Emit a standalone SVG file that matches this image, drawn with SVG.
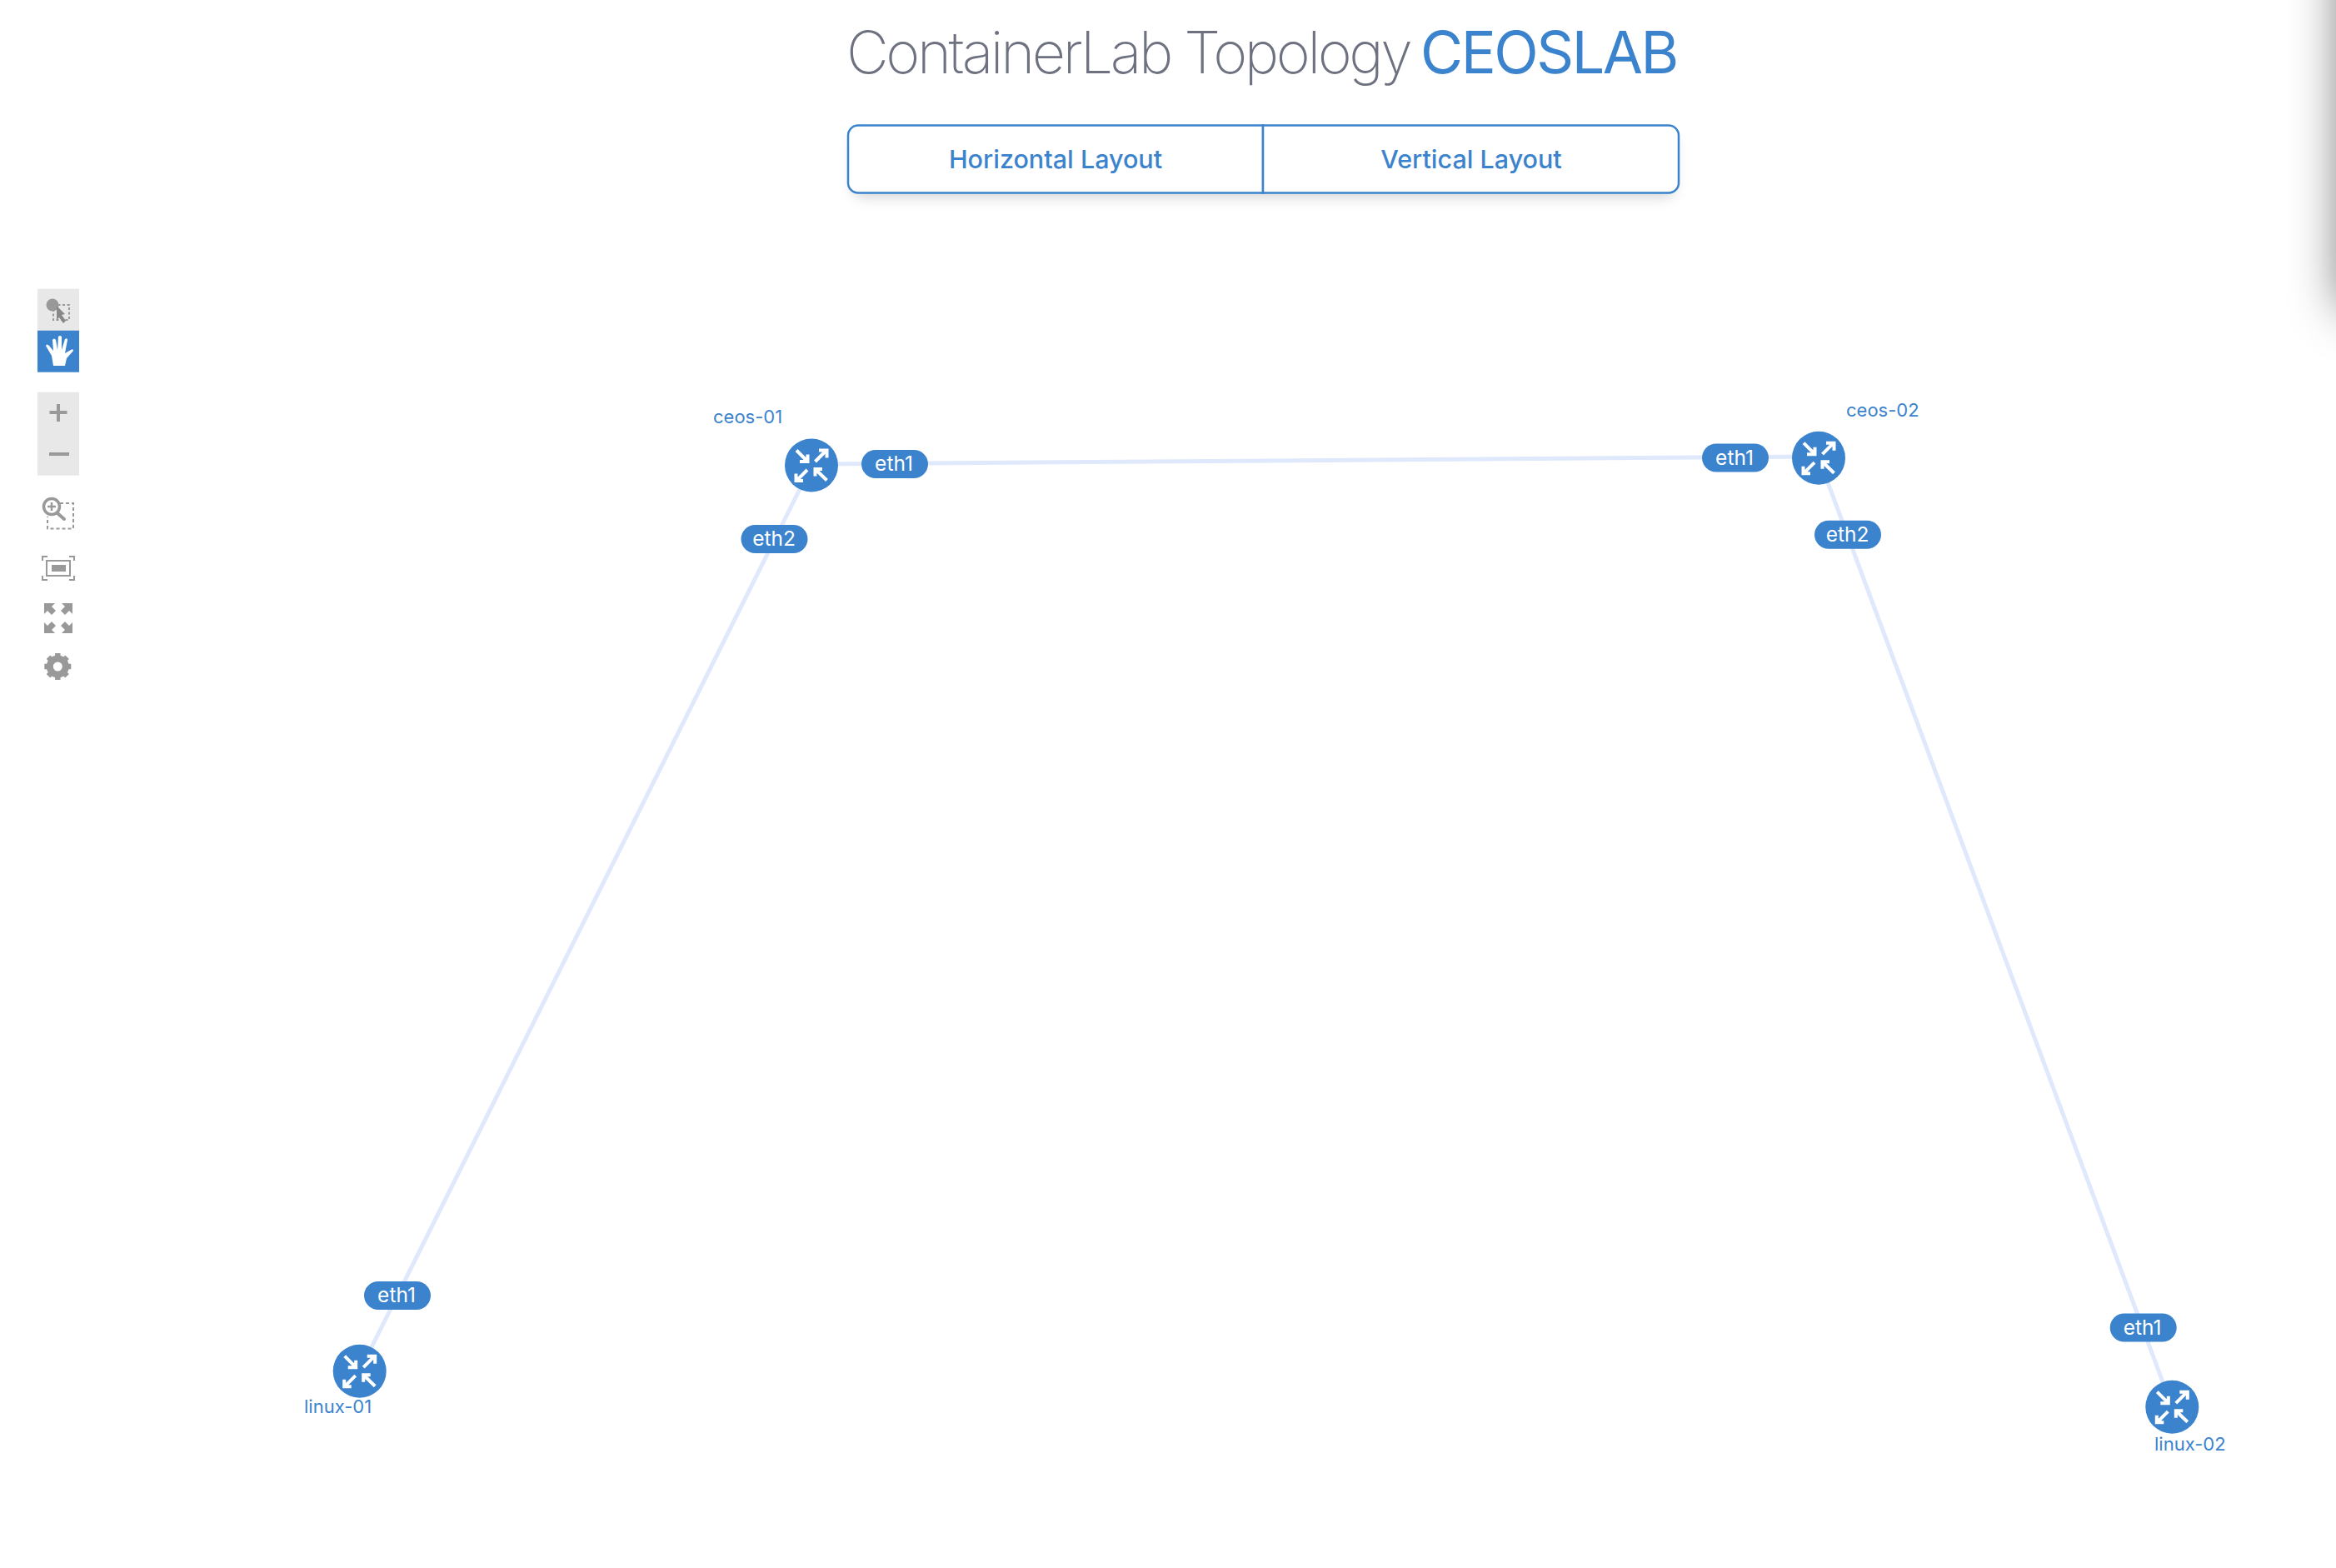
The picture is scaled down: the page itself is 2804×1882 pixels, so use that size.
<svg xmlns="http://www.w3.org/2000/svg" width="2804" height="1882" viewBox="0 0 2804 1882">
<style>
.link{stroke:#dfe9fb;stroke-width:5;fill:none}
.disc{fill:#3b83cd}
.pill{fill:#3b83cd}
.pilltext{font-family:Inter,"Liberation Sans",sans-serif;font-size:24.500px;fill:#fff;text-anchor:middle}
.nodelabel{font-family:Inter,"Liberation Sans",sans-serif;font-size:22px;fill:#3b83cd}
.title{font-family:Inter,"Liberation Sans",sans-serif;font-size:70px}
.btn{fill:#fff;stroke:#3b83cd;stroke-width:2.500}
.btntext{font-family:Inter,"Liberation Sans",sans-serif;font-size:30.500px;font-weight:450;fill:#3b83cd;text-anchor:middle}
.tool{fill:#e8e8e8}
.ic{fill:#999}
.ics{fill:none;stroke:#999}
.arw{fill:none;stroke:#fff;stroke-width:4}
</style>
<defs>
<filter id="sh" x="-10%" y="-30%" width="120%" height="170%"><feGaussianBlur stdDeviation="8"/></filter>
<filter id="edge" x="-150%" y="-30%" width="400%" height="160%"><feGaussianBlur stdDeviation="30"/></filter>
<g id="router">
<circle class="disc" r="32"/>
<g class="arw">
<path d="M-18-18L-5.500-5.500M-4.500-13V-4.500H-14"/>
<path d="M4.500-4.500L17.500-17.500M9-18H18.500V-9"/>
<path d="M-5 5.500L-17.500 18M-18.500 10V18.500H-10"/>
<path d="M18.500 18L5.500 5.500M4.500 13V4.500H13"/>
</g>
</g>
</defs>
<rect width="2804" height="1882" fill="#fff"/>
<rect x="2812" y="-100" width="90" height="470" fill="#000" fill-opacity=".6" filter="url(#edge)"/>
<g id="title"><text class="title" y="88" x="1016" fill="#6e7280" font-weight="200" letter-spacing="-3.400">ContainerLab Topology</text><text class="title" x="1705" y="88" fill="#3b83cd" font-weight="400" letter-spacing="-2.500">CEOSLAB</text></g>
<g id="layout-buttons">
<rect x="1024" y="165" width="986" height="72" rx="12" fill="#000" fill-opacity=".16" filter="url(#sh)"/>
<g id="btn-horizontal"><path class="btn" d="M1516 150.500H1030a12 12 0 0 0-12 12V219.500a12 12 0 0 0 12 12H1516Z"/><text class="btntext" x="1267" y="202">Horizontal Layout</text></g>
<g id="btn-vertical"><path class="btn" d="M1516 150.500H2003a12 12 0 0 1 12 12V219.500a12 12 0 0 1-12 12H1516Z"/><text class="btntext" x="1766" y="202">Vertical Layout</text></g>
</g>
<g id="toolbar">
<rect class="tool" x="45" y="346.700" width="50" height="50"/>
<circle class="ic" cx="63" cy="366" r="7.500"/>
<rect class="ics" x="64" y="366" width="19" height="18" stroke-width="2" stroke-dasharray="3 2.500"/>
<path d="M68 367L78 377L74 378L79 385L76 388L71 381L68 384Z" fill="#888"/>
<rect x="45" y="396.700" width="50" height="50" fill="#3b83cd"/>
<path d="M64 439L62 427L55 415Q56 412 59 415L64 421L63 408Q65 405 67 408L69 420L70 404Q72 402 74 404L74 420L78 407Q81 405 81 408L78 424L85 420Q88 418 88 421L80 430L78 439Z" fill="#fff"/>
<rect class="tool" x="45" y="470.700" width="50" height="100"/>
<path class="ics" stroke-width="4" d="M59.500 495H80.500M70 485V506"/>
<path class="ics" stroke-width="4" d="M59 545H83"/>
<g><circle class="ics" cx="62" cy="608" r="9.500" stroke-width="3.500"/><path class="ics" stroke-width="2.500" d="M57 608H67M62 603V613"/><path class="ics" stroke-width="4" stroke-linecap="round" d="M69 616L77 623"/><path class="ics" stroke-width="2" stroke-dasharray="4 3" d="M72 604H88V634.500H57V620"/></g>
<g><path class="ics" stroke-width="2" d="M51 673V668H57M83 668H89V673M51 691V696H57M83 696H89V691"/><rect class="ics" stroke-width="2" x="56" y="673" width="28" height="18"/><rect class="ic" x="62" y="678" width="17" height="8"/></g>
<g class="ic"><path d="M53 724H66L62 728L67 733L62 738L57 733L53 737Z"/><path d="M87 724H74L78 728L73 733L78 738L83 733L87 737Z"/><path d="M53 760H66L62 756L67 751L62 746L57 751L53 747Z"/><path d="M87 760H74L78 756L73 751L78 746L83 751L87 747Z"/></g>
<g transform="translate(69.300 800)"><circle class="ics" r="9.500" stroke-width="8"/><path class="ics" stroke-width="6.500" d="M0-16V-10M0 16V10M-16 0H-10M16 0H10M-11.300-11.300L-7-7M11.300 11.300L7 7M-11.300 11.300L-7 7M11.300-11.300L7-7"/></g>
</g>
<g id="connectors">
<line class="link" x1="974" y1="557" x2="2183" y2="548"/>
<line class="link" x1="974" y1="559" x2="431.700" y2="1645.700"/>
<line class="link" x1="2183" y1="549.700" x2="2607.300" y2="1689"/>
</g>
<g id="ceos-01"><use href="#router" x="974" y="558.500"/><text class="nodelabel" x="856" y="508">ceos-01</text>
<rect class="pill" x="1034" y="540" width="80" height="34" rx="17"/><text class="pilltext" x="1073" y="565">eth1</text>
<rect class="pill" x="889.500" y="630" width="80" height="34" rx="17"/><text class="pilltext" x="929" y="655">eth2</text></g>
<g id="ceos-02"><use href="#router" x="2183" y="549.700"/><text class="nodelabel" x="2216" y="500">ceos-02</text>
<rect class="pill" x="2043" y="532.500" width="80" height="34" rx="17"/><text class="pilltext" x="2082" y="557.500">eth1</text>
<rect class="pill" x="2178" y="624.700" width="80" height="34" rx="17"/><text class="pilltext" x="2217.500" y="649.700">eth2</text></g>
<g id="linux-01"><use href="#router" x="431.700" y="1645.700"/><text class="nodelabel" x="365" y="1696">linux-01</text>
<rect class="pill" x="437" y="1538" width="80" height="34" rx="17"/><text class="pilltext" x="476" y="1563">eth1</text></g>
<g id="linux-02"><use href="#router" x="2607.300" y="1688.700"/><text class="nodelabel" x="2586" y="1741">linux-02</text>
<rect class="pill" x="2532.700" y="1576.500" width="80" height="34" rx="17"/><text class="pilltext" x="2571.700" y="1601.500">eth1</text></g>
</svg>
